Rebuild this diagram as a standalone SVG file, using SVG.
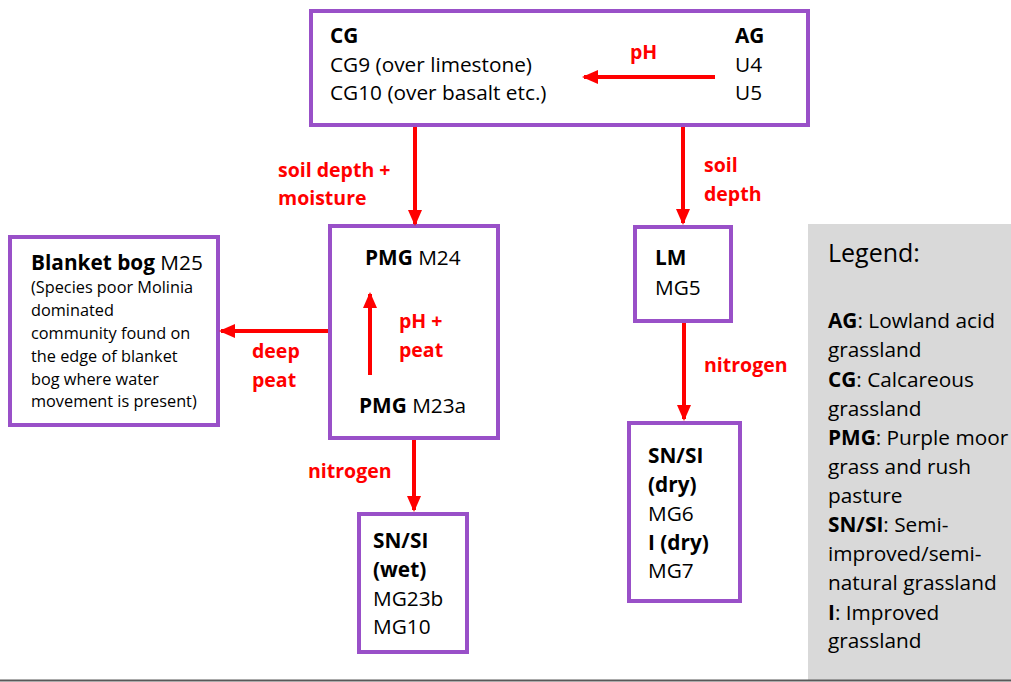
<svg xmlns="http://www.w3.org/2000/svg" width="1011" height="682" viewBox="0 0 1011 682">
<defs>
<style>
text{font-family:"Open Sans","Liberation Sans",sans-serif;font-size:20.8px;fill:#000}
.b{font-weight:bold}
.lbl{fill:#FF0000;font-weight:bold;font-size:19.5px}
.sm{font-size:16.3px}
.box{fill:#fff;stroke:#9950C8;stroke-width:4}
.con{stroke:#FF0000;stroke-width:4;fill:none}
</style>
<marker id="arr" markerWidth="16" markerHeight="16" refX="14" refY="8" orient="auto" markerUnits="userSpaceOnUse" viewBox="0 0 16 16">
<path d="M0,1 L16,8 L0,15 Z" fill="#FF0000"/>
</marker>
</defs>
<rect x="0" y="0" width="1011" height="682" fill="#fff"/>
<g id="legend">
<rect x="808" y="224" width="203" height="456" fill="#D9D9D9"/>
<text x="828" y="262" style="font-size:25px">Legend:</text>
<text x="828" y="328"><tspan class="b">AG</tspan>: Lowland acid</text>
<text x="828" y="357">grassland</text>
<text x="828" y="387"><tspan class="b">CG</tspan>: Calcareous</text>
<text x="828" y="416">grassland</text>
<text x="828" y="445"><tspan class="b">PMG</tspan>: Purple moor</text>
<text x="828" y="474">grass and rush</text>
<text x="828" y="503">pasture</text>
<text x="828" y="532"><tspan class="b">SN/SI</tspan>: Semi-</text>
<text x="828" y="561">improved/semi-</text>
<text x="828" y="590">natural grassland</text>
<text x="828" y="620"><tspan class="b">I</tspan>: Improved</text>
<text x="828" y="648">grassland</text>
</g>
<line x1="0" y1="680.5" x2="1011" y2="680.5" stroke="#595959" stroke-width="2"/>
<g id="top">
<rect class="box" x="311" y="11" width="497" height="114"/>
<text x="330" y="43" class="b">CG</text>
<text x="330" y="72">CG9 (over limestone)</text>
<text x="330" y="100">CG10 (over basalt etc.)</text>
<text x="735" y="43" class="b">AG</text>
<text x="735" y="72">U4</text>
<text x="735" y="100">U5</text>
</g>
<g id="pmg">
<rect class="box" x="330" y="226" width="168" height="212"/>
<text x="365" y="265"><tspan class="b">PMG</tspan> M24</text>
<text x="359" y="413"><tspan class="b">PMG</tspan> M23a</text>
</g>
<g id="bog">
<rect class="box" x="10" y="237" width="208" height="188"/>
<text x="31" y="270"><tspan class="b">Blanket bog</tspan> M25</text>
<text x="31" y="293" class="sm">(Species poor Molinia</text>
<text x="31" y="316" class="sm">dominated</text>
<text x="31" y="339" class="sm">community found on</text>
<text x="31" y="362" class="sm">the edge of blanket</text>
<text x="31" y="385" class="sm">bog where water</text>
<text x="31" y="407" class="sm">movement is present)</text>
</g>
<g id="lm">
<rect class="box" x="635" y="227" width="96" height="94"/>
<text x="655" y="265" class="b">LM</text>
<text x="655" y="295">MG5</text>
</g>
<g id="sndry">
<rect class="box" x="629" y="423" width="111" height="178"/>
<text x="648" y="463" class="b">SN/SI</text>
<text x="648" y="492" class="b">(dry)</text>
<text x="648" y="521">MG6</text>
<text x="648" y="550" class="b">I (dry)</text>
<text x="648" y="578">MG7</text>
</g>
<g id="snwet">
<rect class="box" x="359" y="514" width="108" height="138"/>
<text x="373" y="548" class="b">SN/SI</text>
<text x="373" y="577" class="b">(wet)</text>
<text x="373" y="606">MG23b</text>
<text x="373" y="634">MG10</text>
</g>
<g id="connectors">
<line class="con" x1="715" y1="77" x2="584" y2="77" marker-end="url(#arr)"/>
<text x="630" y="59" class="lbl">pH</text>
<line class="con" x1="415" y1="127" x2="415" y2="224" marker-end="url(#arr)"/>
<text x="278" y="177" class="lbl">soil depth +</text>
<text x="278" y="205" class="lbl">moisture</text>
<line class="con" x1="683" y1="127" x2="683" y2="223" marker-end="url(#arr)"/>
<text x="704" y="172" class="lbl">soil</text>
<text x="704" y="201" class="lbl">depth</text>
<line class="con" x1="370" y1="375" x2="370" y2="294" marker-end="url(#arr)"/>
<text x="399" y="328" class="lbl">pH +</text>
<text x="399" y="357" class="lbl">peat</text>
<line class="con" x1="328" y1="331" x2="221" y2="331" marker-end="url(#arr)"/>
<text x="252" y="358" class="lbl">deep</text>
<text x="252" y="387" class="lbl">peat</text>
<line class="con" x1="684" y1="323" x2="684" y2="419" marker-end="url(#arr)"/>
<text x="704" y="372" class="lbl">nitrogen</text>
<line class="con" x1="414" y1="440" x2="414" y2="510" marker-end="url(#arr)"/>
<text x="308" y="478" class="lbl">nitrogen</text>
</g>
</svg>
